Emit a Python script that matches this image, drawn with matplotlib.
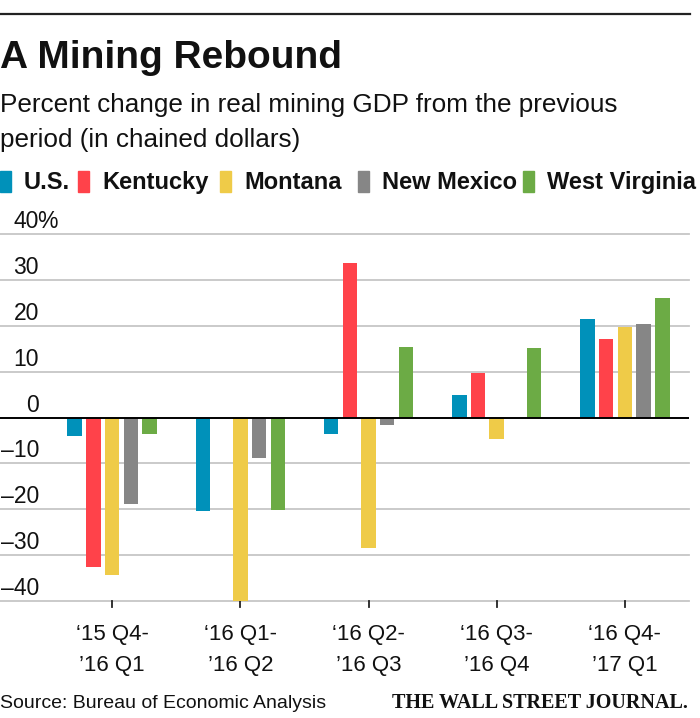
import matplotlib
matplotlib.use('Agg')
import matplotlib.pyplot as plt
import matplotlib.transforms as mtransforms
from matplotlib import font_manager
from matplotlib.patches import Rectangle
from matplotlib.lines import Line2D
import numpy as np

# data (percent change, chained dollars)
period_top = ['‘15 Q4-', '‘16 Q1-', '‘16 Q2-', '‘16 Q3-', '‘16 Q4-']
period_bottom = ['’16 Q1', '’16 Q2', '’16 Q3', '’16 Q4', '’17 Q1']
states = ['U.S.', 'Kentucky', 'Montana', 'New Mexico', 'West Virginia']
colors = ['#0091BA', '#FF424A', '#EFCB48', '#868686', '#6CAB45']

us = [-4.1, -20.4, -3.5, 5.0, 21.5]
kentucky = [-32.6, 0.0, 33.7, 9.8, 17.2]
montana = [-34.3, -40.5, -28.5, -4.7, 19.8]
new_mexico = [-18.9, -8.9, -1.6, 0.0, 20.4]
west_virginia = [-3.7, -20.2, 15.4, 15.2, 26.1]
series = [us, kentucky, montana, new_mexico, west_virginia]

yticks = [-40, -30, -20, -10, 0, 10, 20, 30, 40]

names = {f.name for f in font_manager.fontManager.ttflist}
sans = 'Liberation Sans' if 'Liberation Sans' in names else 'DejaVu Sans'
serif = 'Liberation Serif' if 'Liberation Serif' in names else 'DejaVu Serif'

W, H = 700, 718
fig = plt.figure(figsize=(W / 100, H / 100), dpi=100)

def fx(px):
    return px / W

def fy(py):
    return 1 - py / H

# plot area: gridline 40 at y=234, -40 at y=601
ax = fig.add_axes([0, fy(601), fx(689), (601 - 234) / H])
ax.set_xlim(-0.875, 4.5)
ax.set_ylim(-40, 40)
ax.axis('off')

for v in yticks:
    if v == 0:
        continue
    ax.axhline(v, color='#c6c6c6', lw=1.3, zorder=1, clip_on=False)
ax.axhline(0, color='black', lw=1.4, zorder=4)

x = np.arange(len(period_top))
pitch = 0.146
width = 0.113
for i, (vals, c) in enumerate(zip(series, colors)):
    ax.bar(x + (i - 2) * pitch, vals, width=width, color=c, zorder=3)

# y labels sit above their gridlines, right-aligned
lab_tr = mtransforms.blended_transform_factory(ax.transAxes, ax.transData) + \
    mtransforms.ScaledTranslation(0, 6 / 100, fig.dpi_scale_trans)
pct_tr = lab_tr + mtransforms.ScaledTranslation(-2 / 100, 0, fig.dpi_scale_trans)
for v in yticks:
    s = str(abs(v)) if v >= 0 else '–' + str(abs(v))
    ax.text(39 / 689, v, s, transform=lab_tr, ha='right', va='baseline',
            fontsize=16.5, family=sans, color='#111111', clip_on=False)
    if v == yticks[-1]:
        ax.text(39 / 689, v, '%', transform=pct_tr, ha='left', va='baseline',
                fontsize=16.5, family=sans, color='#111111', clip_on=False)

# x ticks and labels
tick_tr = mtransforms.blended_transform_factory(ax.transData, ax.transAxes)
l1 = tick_tr + mtransforms.ScaledTranslation(0, -39 / 100, fig.dpi_scale_trans)
l2 = tick_tr + mtransforms.ScaledTranslation(0, -70 / 100, fig.dpi_scale_trans)
for i in x:
    ax.plot([i, i], [0, -6 / (601 - 234)], transform=tick_tr, color='#222222',
            lw=1.3, clip_on=False)
    ax.text(i, 0, period_top[i], transform=l1, ha='center', va='baseline',
            fontsize=16, family=sans, color='#111111')
    ax.text(i, 0, period_bottom[i], transform=l2, ha='center', va='baseline',
            fontsize=16, family=sans, color='#111111')

# header
fig.add_artist(Line2D([0, fx(690)], [fy(14), fy(14)], color='#222222', lw=1.6))
fig.text(0, fy(68), 'A Mining Rebound', fontsize=28, weight='bold',
         family=sans, va='baseline', color='#111111')
fig.text(0, fy(112), 'Percent change in real mining GDP from the previous',
         fontsize=18.8, family=sans, va='baseline', color='#111111')
fig.text(0, fy(147), 'period (in chained dollars)',
         fontsize=18.8, family=sans, va='baseline', color='#111111')

# legend
sq_x = [0, 78, 220, 358, 523]
for sx, name, c in zip(sq_x, states, colors):
    fig.add_artist(Rectangle((fx(sx), fy(192)), fx(11), 21 / H,
                             transform=fig.transFigure, color=c))
    fig.text(fx(sx + 24), fy(189), name, fontsize=17, weight='bold',
             family=sans, va='baseline', color='#111111')

# footer
fig.text(0, fy(708), 'Source: Bureau of Economic Analysis', fontsize=14,
         family=sans, va='baseline', color='#111111')
fig.text(fx(688), fy(708), 'THE WALL STREET JOURNAL.', fontsize=14.5,
         weight='bold', family=serif, ha='right', va='baseline', color='#111111')

fig.savefig('out.png', dpi=100)
